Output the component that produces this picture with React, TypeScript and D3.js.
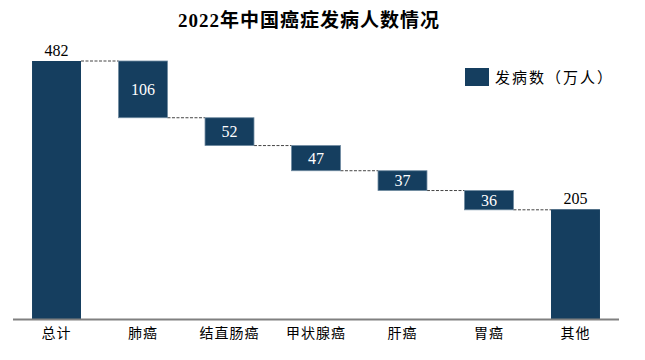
import React from "react";
import * as d3 from "d3";

const categories = ["总计", "肺癌", "结直肠癌", "甲状腺癌", "肝癌", "胃癌", "其他"];
const values = [482, 106, 52, 47, 37, 36, 205];
const kinds = ["total", "step", "step", "step", "step", "step", "base"];
const title = "2022年中国癌症发病人数情况";
const legendLabel = "发病数（万人）";

const W = 645;
const H = 360;
const BAR = "#153e5f";
const SERIF = "'Liberation Serif', 'Noto Sans CJK SC', serif";

export default function App() {
  const x = d3
    .scaleBand<string>()
    .domain(categories)
    .range([13, 619])
    .paddingInner(0.434)
    .paddingOuter(0.22);
  const y = d3.scaleLinear().domain([0, 482]).range([319, 61]);

  let level = values[0];
  const segs = categories.map((c, i) => {
    const v = values[i];
    if (kinds[i] !== "step") {
      return { c, v, top: v, bottom: 0, kind: kinds[i] };
    }
    const top = level;
    const bottom = level - v;
    level = bottom;
    return { c, v, top, bottom, kind: kinds[i] };
  });

  const bw = x.bandwidth();

  return (
    <svg width={W} height={H} style={{ display: "block", position: "absolute", left: 0, top: 0 }}>
      <rect width={W} height={H} fill="#fff" />
      <text
        x={309}
        y={27}
        textAnchor="middle"
        fontFamily={SERIF}
        fontWeight="bold"
        fontSize={19}
        letterSpacing={1}
        fill="#000"
      >
        {title}
      </text>

      {segs.slice(0, -1).map((s, i) => {
        const next = segs[i + 1];
        const lvl = s.kind === "total" ? s.top : s.bottom;
        const yy = y(lvl);
        return (
          <line
            key={"d" + i}
            x1={(x(s.c) as number) + bw}
            x2={x(next.c) as number}
            y1={yy}
            y2={yy}
            stroke="#444"
            strokeWidth={1}
            strokeDasharray="3,1.5"
          />
        );
      })}

      {segs.map((s, i) => {
        const x0 = x(s.c) as number;
        const y0 = y(s.top);
        const h = y(s.bottom) - y(s.top);
        const floating = s.kind === "step";
        return (
          <g key={"b" + i}>
            <rect
              x={x0}
              y={y0}
              width={bw}
              height={h}
              fill={BAR}
              stroke={floating ? "#6f8aa0" : "none"}
              strokeWidth={floating ? 0.8 : 0}
            />
            <text
              x={x0 + bw / 2}
              y={floating ? y0 + h / 2 + 5.5 : y0 - 5}
              textAnchor="middle"
              fontFamily={SERIF}
              fontSize={16}
              fill={floating ? "#fff" : "#000"}
            >
              {s.v}
            </text>
          </g>
        );
      })}

      <line x1={13} x2={619} y1={319.5} y2={319.5} stroke="#808080" strokeWidth={2} />
      {categories.map((c) => (
        <text
          key={"t" + c}
          x={(x(c) as number) + bw / 2}
          y={338}
          textAnchor="middle"
          fontFamily={SERIF}
          fontSize={14}
          letterSpacing={1}
          fill="#000"
        >
          {c}
        </text>
      ))}

      <rect x={465} y={68} width={24} height={18} fill={BAR} />
      <text x={495} y={82.5} fontFamily={SERIF} fontSize={15} letterSpacing={2} fill="#000">
        {legendLabel}
      </text>
    </svg>
  );
}
